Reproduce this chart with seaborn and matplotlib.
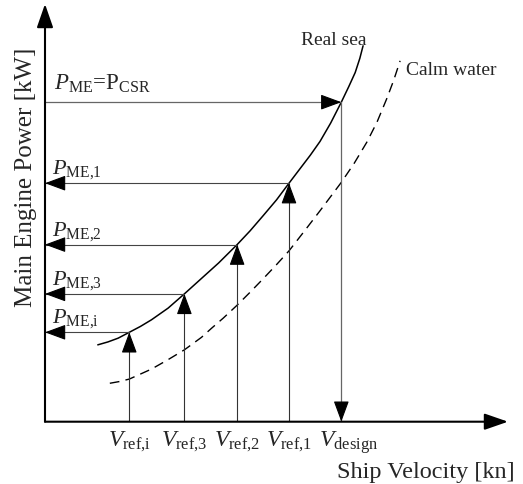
import matplotlib
matplotlib.use("Agg")
import matplotlib.pyplot as plt
import pandas as pd
import seaborn as sns

# Power-speed curves (velocity and main engine power, arbitrary units)
real_sea_v = [1.14, 1.36, 1.58, 1.82, 2.06, 2.30, 2.66, 3.01, 3.35, 3.75, 4.15,
              4.43, 4.71, 5.00, 5.27, 5.51, 5.73, 5.94, 6.17, 6.40, 6.56, 6.70,
              6.80, 6.87]
real_sea_p = [1.84, 1.91, 2.00, 2.14, 2.28, 2.44, 2.72, 3.06, 3.40, 3.80, 4.24,
              4.57, 4.93, 5.31, 5.71, 6.06, 6.38, 6.71, 7.15, 7.65, 8.02, 8.36,
              8.70, 9.00]
calm_v = [1.40, 1.60, 1.82, 2.30, 2.65, 3.01, 3.38, 3.60, 3.85, 4.15, 4.43, 4.71,
          5.00, 5.27, 5.60, 5.94, 6.40, 6.68, 6.95, 7.17, 7.38, 7.53, 7.67]
calm_p = [0.92, 0.96, 1.02, 1.26, 1.48, 1.72, 2.02, 2.24, 2.48, 2.79, 3.10, 3.42,
          3.76, 4.09, 4.56, 5.05, 5.73, 6.19, 6.69, 7.17, 7.73, 8.17, 8.64]

# Reference operating points on the real-sea curve
v_ref = [1.82, 3.01, 4.15, 5.27]
p_me = [2.14, 3.06, 4.24, 5.71]
v_ref_labels = [r"$V_{\mathrm{ref{,}i}}$", r"$V_{\mathrm{ref{,}3}}$",
                r"$V_{\mathrm{ref{,}2}}$", r"$V_{\mathrm{ref{,}1}}$"]
p_me_labels = [r"$P_{\mathrm{ME{,}i}}$", r"$P_{\mathrm{ME{,}3}}$",
               r"$P_{\mathrm{ME{,}2}}$", r"$P_{\mathrm{ME{,}1}}$"]

# Design point
v_design = 6.40
p_csr = 7.65
v_design_label = r"$V_{\mathrm{design}}$"
p_csr_label = r"$P_{\mathrm{ME}}$=P$_{\mathrm{CSR}}$"

curve_labels = ["Real sea", "Calm water"]
x_label = "Ship Velocity [kn]"
y_label = "Main Engine Power [kW]"

sns.set_theme(style="white")
plt.rcParams["font.family"] = ["Liberation Serif", "DejaVu Serif"]
plt.rcParams["mathtext.fontset"] = "custom"
plt.rcParams["mathtext.rm"] = "Liberation Serif"
plt.rcParams["mathtext.it"] = "Liberation Serif:italic"
plt.rcParams["mathtext.bf"] = "Liberation Serif:bold"

W, H = 523, 485
fig = plt.figure(figsize=(W / 100, H / 100), dpi=100)
ax = fig.add_axes([45 / W, 62.3 / H, 463 / W, 417.7 / H])
ax.set_xlim(0, 10)
ax.set_ylim(0, 10)
ax.axis("off")

real = pd.DataFrame({"v": real_sea_v, "p": real_sea_p})
calm = pd.DataFrame({"v": calm_v, "p": calm_p})
sns.lineplot(data=real, x="v", y="p", ax=ax, color="black", lw=1.1,
             sort=False, estimator=None)
sns.lineplot(data=calm, x="v", y="p", ax=ax, color="black", lw=1.0,
             sort=False, estimator=None, linestyle=(0, (7, 4.5)))

head = "-|>,head_length=0.65,head_width=0.24"
axis_head = "-|>,head_length=0.72,head_width=0.25"


def head_at(tip, tail):
    ax.annotate("", xy=tip, xytext=tail,
                arrowprops=dict(arrowstyle=head, mutation_scale=20,
                                color="black", lw=0.8,
                                shrinkA=0, shrinkB=0))


# Coordinate axes with arrowheads
ax.annotate("", xy=(10, 0), xytext=(0, 0), annotation_clip=False,
            arrowprops=dict(arrowstyle=axis_head, mutation_scale=20,
                            color="black", lw=1.5, shrinkA=0, shrinkB=0))
ax.annotate("", xy=(0, 10), xytext=(0, 0), annotation_clip=False,
            arrowprops=dict(arrowstyle=axis_head, mutation_scale=20,
                            color="black", lw=1.5, shrinkA=0, shrinkB=0))

# Reference speeds: up to the curve, then across to the power axis
for v, p, vl, pl in zip(v_ref, p_me, v_ref_labels, p_me_labels):
    ax.plot([v, v], [0, p], color="#333333", lw=0.8)
    head_at((v, p), (v, p - 0.3))
    ax.plot([0, v], [p, p], color="#444444", lw=0.8)
    head_at((0, p), (0.3, p))
    ax.text(v, -0.575, vl, ha="center", va="baseline", fontsize=17)
    ax.text(0.15, p + 0.25, pl, ha="left", va="baseline", fontsize=16)

# Design point: contract service rating power down to design speed
ax.plot([0, v_design], [p_csr, p_csr], color="#666666", lw=0.9)
head_at((v_design, p_csr), (v_design - 0.3, p_csr))
ax.plot([v_design, v_design], [0, p_csr], color="#666666", lw=0.9)
head_at((v_design, 0), (v_design, 0.3))
ax.text(v_design + 0.15, -0.575, v_design_label, ha="center",
        va="baseline", fontsize=17)
ax.text(0.20, p_csr + 0.32, p_csr_label, ha="left", va="baseline",
        fontsize=16.5)

# Curve names
ax.text(6.24, 9.04, curve_labels[0], ha="center", va="baseline", fontsize=14)
ax.text(7.80, 8.32, curve_labels[1], ha="left", va="baseline", fontsize=14)

# Axis titles
ax.text(10.15, -1.32, x_label, ha="right", va="baseline", fontsize=17.5)
ax.text(-0.28, 5.87, y_label, ha="center", va="baseline", rotation=90,
        rotation_mode="anchor", fontsize=18)

fig.savefig("out.png", dpi=100)
